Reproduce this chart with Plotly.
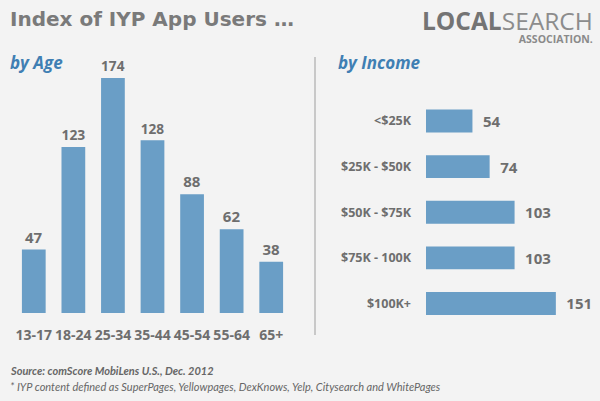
import plotly.graph_objects as go

age_groups = ["13-17", "18-24", "25-34", "35-44", "45-54", "55-64", "65+"]
age_index = [47, 123, 174, 128, 88, 62, 38]

income_groups = ["<$25K", "$25K - $50K", "$50K - $75K", "$75K - 100K", "$100K+"]
income_index = [54, 74, 103, 103, 151]

BAR = "#6a9ec6"
GRAY = "#6e6e6e"
BLUE = "#3f7fb3"
FONT = "Open Sans"
H = 401

fig = go.Figure()

fig.add_trace(go.Bar(
    x=age_groups, y=age_index, marker_color=BAR, width=0.6,
    text=age_index, textposition="outside", cliponaxis=False,
    textfont=dict(family=FONT, size=15, color=GRAY, weight="bold"),
    xaxis="x", yaxis="y", showlegend=False, hoverinfo="skip"))

fig.add_trace(go.Bar(
    x=income_index, y=income_groups, orientation="h", marker_color=BAR, width=0.5,
    texttemplate="\u2002%{x}", textposition="outside", cliponaxis=False,
    textfont=dict(family=FONT, size=15, color=GRAY, weight="bold"),
    xaxis="x2", yaxis="y2", showlegend=False, hoverinfo="skip"))

fig.update_layout(
    template="none",
    width=600, height=H,
    margin=dict(l=0, r=0, t=0, b=0, autoexpand=False),
    paper_bgcolor="#f3f3f3", plot_bgcolor="rgba(0,0,0,0)",
    bargap=0.4,
    xaxis=dict(domain=[14/600, 291/600], showgrid=False, showline=False, zeroline=False,
               ticks="", tickfont=dict(family=FONT, size=14, color=GRAY, weight="bold"),
               anchor="y", automargin=False, ticklabelstandoff=12),
    yaxis=dict(domain=[(H-313)/H, (H-43)/H], range=[0, 200], visible=False, anchor="x",
               automargin=False),
    xaxis2=dict(domain=[426/600, 598/600], range=[0, 200], visible=False, anchor="y2",
                automargin=False),
    yaxis2=dict(domain=[(H-326.3)/H, (H-98.2)/H], autorange="reversed", anchor="x2",
                showgrid=False, showline=False, zeroline=False, ticks="",
                ticklabelstandoff=14, automargin=False,
                tickfont=dict(family=FONT, size=12.5, color=GRAY, weight="bold")),
)

def txt(x, y, s, size, color, weight="normal", style="normal", xanchor="left", family=FONT,
        yanchor="middle", align="left"):
    fig.add_annotation(x=x/600, y=1-y/H, xref="paper", yref="paper", text=s, showarrow=False,
                       xanchor=xanchor, yanchor=yanchor, borderpad=0, align=align,
                       font=dict(family=family, size=size, color=color, weight=weight, style=style))

txt(9, 19, "Index of IYP App Users …", 20, "#7a7a7a", weight="bold", family="DejaVu Sans")
txt(9, 63, "by Age", 17, BLUE, weight="bold", style="italic")
txt(337, 63, "by Income", 17, BLUE, weight="bold", style="italic")
txt(594, 3,
    "<span style='font-size:24.5px'><b>LOCAL</b><span style='color:#8c8c8c'>SEARCH</span></span><br>"
    "<b><span style='font-size:10.5px;color:#8a8a8a'>ASSOCIATION.</span></b>",
    10, "#747474", xanchor="right", yanchor="top", align="right")
txt(9, 370, "Source: comScore MobiLens U.S., Dec. 2012", 11, "#666666", weight="bold", style="italic",
    family="Lato")
txt(9, 386, "* IYP content defined as SuperPages, Yellowpages, DexKnows, Yelp, Citysearch and WhitePages",
    11, "#666666", style="italic", family="Lato")

fig.add_shape(type="line", xref="paper", yref="paper", x0=315/600, x1=315/600,
              y0=1-57/H, y1=1-335/H, line=dict(color="#c8c8c8", width=2))

fig.write_html("out.html", config={"displayModeBar": False},
               post_script="document.body.style.margin='0';")
